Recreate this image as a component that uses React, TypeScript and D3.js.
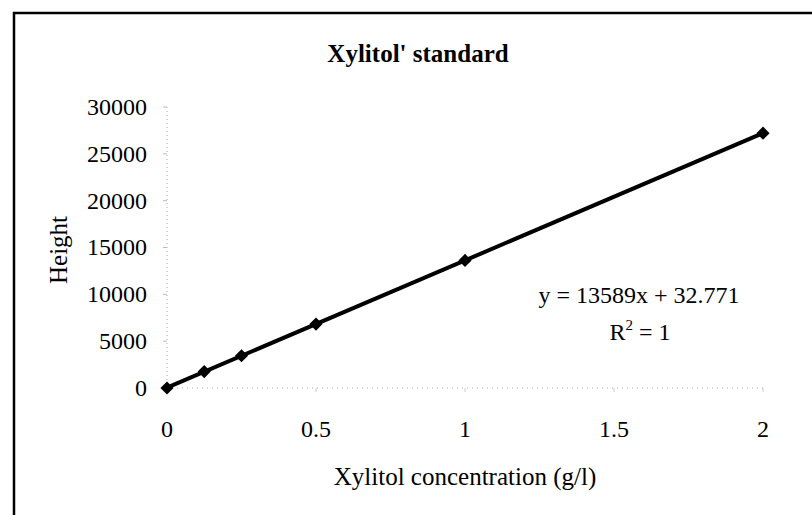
import React from 'react';
import * as d3 from 'd3';

const concentrations = [0, 0.125, 0.25, 0.5, 1, 2];
const heights = [0, 1750, 3440, 6820, 13620, 27210];
const xTicks = [0, 0.5, 1, 1.5, 2];
const yTicks = [0, 5000, 10000, 15000, 20000, 25000, 30000];
const slope = 13589;
const intercept = 32.771;

const W = 812;
const H = 515;
const font = '"Liberation Serif", "Times New Roman", serif';

const App: React.FC = () => {
  const x = d3.scaleLinear().domain([0, 2]).range([167, 763]);
  const y = d3.scaleLinear().domain([0, 30000]).range([388, 107]);

  const trend = d3.line<number>()
    .x(d => x(d))
    .y(d => y(slope * d + intercept));

  const diamond = d3.symbol().type(d3.symbolDiamond2).size(110)();

  return (
    <svg width={W} height={H} style={{ position: 'absolute', left: 0, top: 0, background: '#fff' }}>
      <rect x={14} y={13} width={W + 20} height={H + 20} fill="none" stroke="#000" strokeWidth={2.5} />

      <text x={418} y={62} textAnchor="middle" fontFamily={font} fontWeight="bold" fontSize={25}>
        Xylitol' standard
      </text>

      {/* faint axes, as in the scan */}
      <line x1={x(0)} x2={x(0)} y1={y(30000)} y2={y(0)} stroke="#aaa" strokeWidth={1} strokeDasharray="1,3" />
      <line x1={x(0)} x2={x(2)} y1={y(0)} y2={y(0)} stroke="#aaa" strokeWidth={1} strokeDasharray="1,4" />
      {yTicks.map(t => (
        <line key={'yt' + t} x1={x(0) - 4} x2={x(0)} y1={y(t)} y2={y(t)} stroke="#bbb" strokeWidth={1} />
      ))}
      {xTicks.map(t => (
        <line key={'xt' + t} x1={x(t)} x2={x(t)} y1={y(0)} y2={y(0) + 4} stroke="#ccc" strokeWidth={1} />
      ))}

      {yTicks.map(t => (
        <text key={'yl' + t} x={x(0) - 20} y={y(t)} dy="0.33em" textAnchor="end" fontFamily={font} fontSize={24}>
          {t}
        </text>
      ))}
      {xTicks.map(t => (
        <text key={'xl' + t} x={x(t)} y={437} textAnchor="middle" fontFamily={font} fontSize={24}>
          {t}
        </text>
      ))}

      <path d={trend([0, 2]) || ''} fill="none" stroke="#000" strokeWidth={4} />
      {concentrations.map((c, i) => (
        <path key={'pt' + i} d={diamond || ''} transform={`translate(${x(c)},${y(heights[i])})`} fill="#000" />
      ))}

      <text x={639} y={303} textAnchor="middle" fontFamily={font} fontSize={24}>
        y = 13589x + 32.771
      </text>
      <text x={640} y={340} textAnchor="middle" fontFamily={font} fontSize={24}>
        R<tspan dy={-10} fontSize={15}>2</tspan><tspan dy={10}> = 1</tspan>
      </text>

      <text x={465} y={485} textAnchor="middle" fontFamily={font} fontSize={25}>
        Xylitol concentration (g/l)
      </text>
      <text transform="translate(67,250) rotate(-90)" textAnchor="middle" fontFamily={font} fontSize={25}>
        Height
      </text>
    </svg>
  );
};

export default App;
